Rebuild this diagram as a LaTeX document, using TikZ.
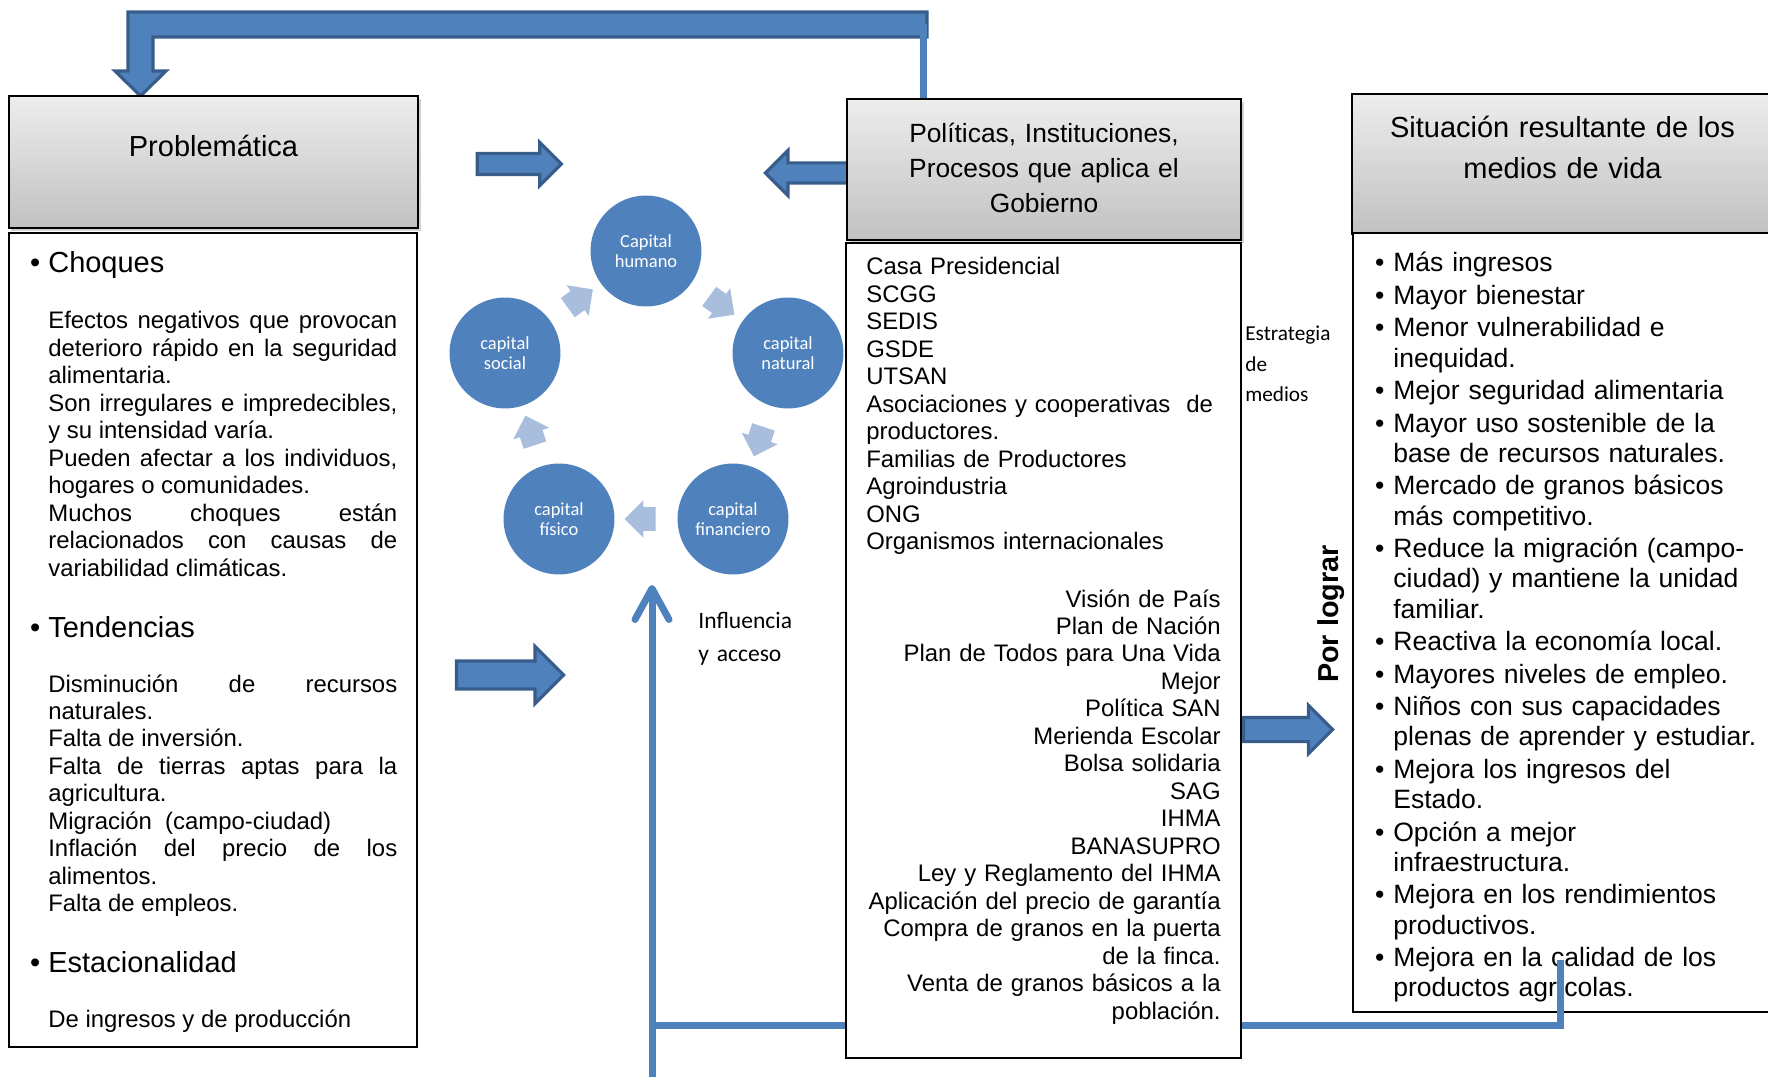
\documentclass[tikz,border=0pt]{standalone}
\usepackage{fontspec}
\setmainfont{Liberation Sans}
\newfontfamily\calibrifont{Carlito}
\usetikzlibrary{positioning,fit,calc,shapes.arrows,arrows.meta,shadows}

\definecolor{capblue}{HTML}{4F81BD}
\definecolor{capdark}{HTML}{385D8A}
\definecolor{caplight}{HTML}{A9BDDD}
\definecolor{headtop}{HTML}{EDEDED}
\definecolor{headbot}{HTML}{C1C1C1}

\newcommand{\rbul}{\leavevmode\llap{\textbullet\ }}

\tikzset{
  header/.style={draw=black, line width=1pt, top color=headtop, bottom color=headbot,
    inner sep=0pt, drop shadow={opacity=0.35, shadow xshift=0.05cm, shadow yshift=-0.06cm}},
  body box/.style={draw=black, line width=0.7pt, fill=white, inner sep=0pt},
  plain text/.style={inner sep=0pt, font=\fontsize{13.6}{15.65}\selectfont},
  sub head/.style={inner sep=0pt, anchor=base west, font=\fontsize{16.5}{19.8}\selectfont},
  cap node/.style={circle, fill=capblue, minimum size=2.22cm, inner sep=0pt, text=white,
    align=center, font=\calibrifont\fontsize{10.5}{11.7}\selectfont},
  cap arrow/.style={single arrow, fill=caplight, minimum height=0.62cm, inner xsep=0pt,
    inner ysep=0.23cm, single arrow head extend=0.14cm},
  block arrow/.style={single arrow, fill=capblue, draw=capdark, line width=1.8pt, inner xsep=0pt},
  conn line/.style={draw=capblue, line width=0.14cm},
}

\begin{document}
\begin{tikzpicture}[x=0.02cm, y=-0.02cm]
  \useasboundingbox (0,0) rectangle (1768,1077);

  \filldraw[fill=capblue, draw=capdark, line width=1.8pt]
    (128,12) -- (927,12) -- (927,37) -- (153,37) -- (153,71) -- (166,71)
    -- (140.5,96) -- (115,71) -- (128,71) -- cycle;

  \node[block arrow, minimum height=1.68cm, inner ysep=0.18cm, single arrow head extend=0.22cm] (probarr) at (514,164) {};
  \node[block arrow, rotate=180, minimum height=1.9cm, inner ysep=0.17cm, single arrow head extend=0.25cm] (polarr) at (818,173) {};
  \node[block arrow, minimum height=2.14cm, inner ysep=0.25cm, single arrow head extend=0.29cm] (tendarr) at (503,675) {};
  \node[block arrow, minimum height=1.78cm, inner ysep=0.21cm, single arrow head extend=0.24cm] (logarr) at (1282,729.5) {};

  \node[header, fit={(9,96) (418,228)}] (probhead) {};
  \node[header, fit={(847,99) (1241,240)}] (polhead) {};
  \node[header, fit={(1352,94) (1775,234)}] (sithead) {};
  \node[body box, fit={(9,233) (417,1047)}] (probbody) {};
  \node[body box, fit={(846,243) (1241,1058)}] (polbody) {};
  \node[body box, fit={(1353,233) (1775,1012)}] (sitbody) {};

  \node[anchor=base, inner sep=0pt, font=\fontsize{16.5}{19.8}\selectfont] (probtxt) at (213.5,157) {Problemática};
  \node[anchor=base, inner sep=0pt, text width=7.6cm, align=center, font=\fontsize{15}{20}\selectfont] (poltxt) at (1044,142.7)
    {Políticas, Instituciones,\\ Procesos que aplica el\\ Gobierno};
  \node[anchor=base, inner sep=0pt, text width=8cm, align=center, font=\fontsize{16.5}{23.2}\selectfont] (sittxt) at (1562.5,138)
    {Situación resultante de los\\ medios de vida};

  \node[sub head] (choq) at (48,273) {\rbul Choques};
  \node[plain text, anchor=base west, text width=6.98cm, align=justify] (choqtxt) at (48,329) {%
    Efectos negativos que provocan\linebreak deterioro rápido en la seguridad\linebreak alimentaria.\par
    Son irregulares e impredecibles,\linebreak y su intensidad varía.\par
    Pueden afectar a los individuos,\linebreak hogares o comunidades.\par
    Muchos choques están\linebreak relacionados con causas de\linebreak variabilidad climáticas.};
  \node[sub head] (tend) at (48,637) {\rbul Tendencias};
  \node[plain text, anchor=base west, text width=6.98cm, align=justify] (tendtxt) at (48,692) {%
    Disminución de recursos\linebreak naturales.\par
    Falta de inversión.\par
    Falta de tierras aptas para la\linebreak agricultura.\par
    Migración\ \ (campo-ciudad)\par
    Inflación del precio de los\linebreak alimentos.\par
    Falta de empleos.};
  \node[sub head] (estac) at (48,972) {\rbul Estacionalidad};
  \node[plain text, anchor=base west] (estactxt) at (48,1027) {De ingresos y de producción};

  \node[plain text, anchor=base west, text width=7.6cm, align=left] (actores) at (866,275) {%
    Casa Presidencial\\ SCGG\\ SEDIS\\ GSDE\\ UTSAN\\
    Asociaciones y cooperativas\ \ de\\ productores.\\
    Familias de Productores\\ Agroindustria\\ ONG\\ Organismos internacionales};
  \node[plain text, anchor=base east, text width=7.6cm, align=right] (programas) at (1221,607) {%
    Visión de País\\ Plan de Nación\\ Plan de Todos para Una Vida\\ Mejor\\
    Política SAN\\ Merienda Escolar\\ Bolsa solidaria\\ SAG\\ IHMA\\ BANASUPRO\\
    Ley y Reglamento del IHMA\\ Aplicación del precio de garantía\\
    Compra de granos en la puerta\\ de la finca.\\
    Venta de granos básicos a la\\ población.};

  \node[anchor=base west, inner sep=0pt, text width=7.6cm, align=left, font=\fontsize{15.1}{17.23}\selectfont] (logros) at (1393,272) {%
    \rbul Más ingresos\\[1.25pt]
    \rbul Mayor bienestar\\[1.25pt]
    \rbul Menor vulnerabilidad e\\ inequidad.\\[1.25pt]
    \rbul Mejor seguridad alimentaria\\[1.25pt]
    \rbul Mayor uso sostenible de la\\ base de recursos naturales.\\[1.25pt]
    \rbul Mercado de granos básicos\\ más competitivo.\\[1.25pt]
    \rbul Reduce la migración (campo-\\ ciudad) y mantiene la unidad\\ familiar.\\[1.25pt]
    \rbul Reactiva la economía local.\\[1.25pt]
    \rbul Mayores niveles de empleo.\\[1.25pt]
    \rbul Niños con sus capacidades\\ plenas de aprender y estudiar.\\[1.25pt]
    \rbul Mejora los ingresos del\\ Estado.\\[1.25pt]
    \rbul Opción a mejor\\ infraestructura.\\[1.25pt]
    \rbul Mejora en los rendimientos\\ productivos.\\[1.25pt]
    \rbul Mejora en la calidad de los\\ productos agrícolas.};

  \node[cap node] (hum) at (646,251) {Capital\\ humano};
  \node[cap node] (nat) at (788,353) {capital\\ natural};
  \node[cap node] (fin) at (733,519) {capital\\ financiero};
  \node[cap node] (fis) at (559,519) {capital\\ físico};
  \node[cap node] (soc) at (505,353) {capital\\ social};
  \node[cap arrow, rotate=-36] (humnat) at ($(hum)!0.5!(nat)$) {};
  \node[cap arrow, rotate=-108] (natfin) at ($(nat)!0.5!(fin)$) {};
  \node[cap arrow, rotate=180] (finfis) at ($(fin)!0.5!(fis)$) {};
  \node[cap arrow, rotate=108] (fissoc) at ($(fis)!0.5!(soc)$) {};
  \node[cap arrow, rotate=36] (sochum) at ($(soc)!0.5!(hum)$) {};

  \node[anchor=base west, inner sep=0pt, text width=2cm, align=left, font=\calibrifont\fontsize{12.1}{17.3}\selectfont] (estrat) at (1245,341)
    {Estrategia\\ de\\ medios};
  \node[anchor=base west, inner sep=0pt, text width=3cm, align=left, font=\calibrifont\fontsize{13.4}{19.3}\selectfont] (infltxt) at (698,628)
    {Influencia\\ y acceso};
  \node[rotate=90, inner sep=0pt, font=\bfseries\fontsize{16.4}{19}\selectfont] (porlog) at (1331,614) {Por lograr};

  \coordinate (topjoin) at (923.5,24);
  \coordinate (infl) at (652,585);
  \coordinate (foot) at (652,1077);
  \coordinate (junc) at (652,1025);
  \coordinate (rcorner) at (1560,960);
  \draw[conn line, line width=0.13cm] (topjoin |- polhead.north) -- (topjoin);
  \draw[conn line, -{Straight Barb[length=0.62cm, width=0.68cm, round]}] (foot) -- (infl);
  \draw[conn line] (polbody.west |- junc) -- (junc);
  \draw[conn line] (polbody.east |- junc) -| (rcorner);
\end{tikzpicture}
\end{document}
